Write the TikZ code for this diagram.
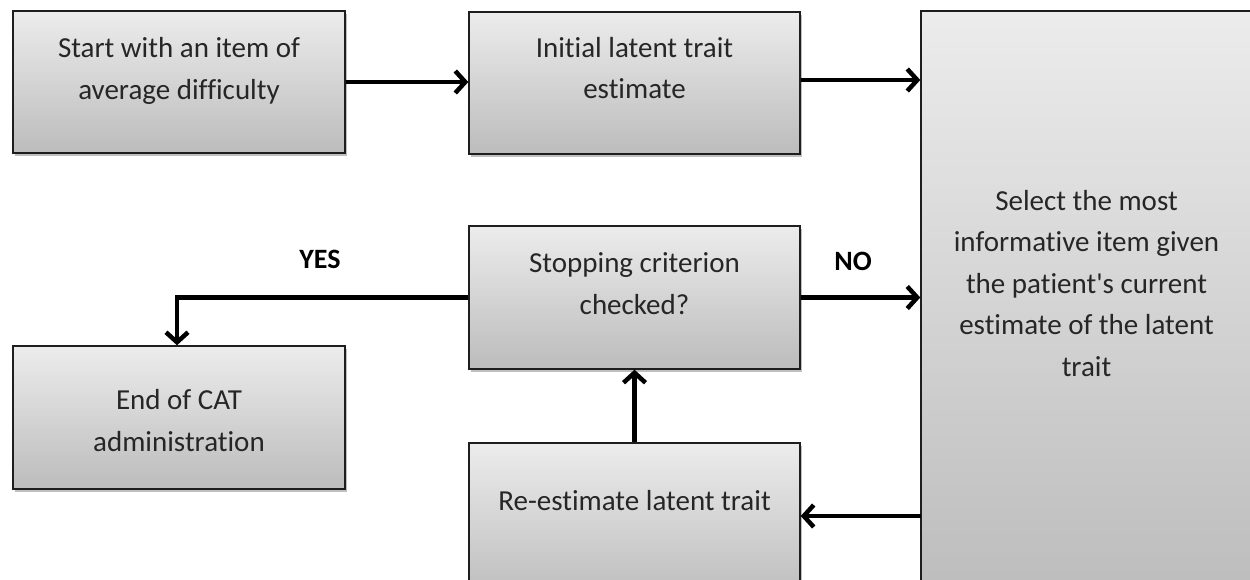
\documentclass[tikz,border=0pt]{standalone}
\usepackage{fontspec}
\setmainfont{Carlito}[Ligatures={NoCommon,TeXOff}]
\usetikzlibrary{arrows.meta,shadows,calc}
\definecolor{boxtop}{RGB}{236,236,236}
\definecolor{boxbot}{RGB}{188,188,188}
\definecolor{edge}{RGB}{30,30,30}
\tikzset{
  box/.style={draw=edge, line width=1.4pt, top color=boxtop, bottom color=boxbot,
    drop shadow={shadow xshift=1.5pt, shadow yshift=-3pt, fill=black, opacity=0.25},
    inner sep=0pt},
  txt/.style={align=center, font=\fontsize{29}{41.5}\selectfont, text=black!85},
  lab/.style={font=\fontsize{28}{32}\selectfont\bfseries},
  arr/.style={line width=4.5pt, -{Straight Barb[length=10pt,width=22pt,line width=4.5pt]}}
}
\begin{document}
\begin{tikzpicture}[x=1pt,y=-1pt]
\clip (0,0) rectangle (1250,580);
\fill[white] (0,0) rectangle (1250,580);
\node[box, minimum width=332pt, minimum height=142pt,
  label={[txt, yshift=11pt]center:{Start with an item of\\average difficulty}}] (A) at (179,82) {};
\node[box, minimum width=331pt, minimum height=142pt,
  label={[txt, yshift=15pt]center:{Initial latent trait\\estimate}}] (B) at (634.5,83) {};
\node[box, minimum width=331pt, minimum height=589pt,
  label={[txt, yshift=22pt]center:{Select the most\\informative item given\\the patient's current\\estimate of the latent\\trait}}] (C) at (1086.5,305.5) {};
\node[box, minimum width=331pt, minimum height=143pt,
  label={[txt, yshift=14pt]center:{Stopping criterion\\checked?}}] (D) at (634.5,297.5) {};
\node[box, minimum width=332pt, minimum height=143pt,
  label={[txt, yshift=-3pt]center:{End of CAT\\administration}}] (E) at (179,417.5) {};
\node[box, minimum width=331pt, minimum height=157pt,
  label={[txt, yshift=21pt]center:{Re-estimate latent trait}}] (F) at (634.5,521.5) {};
\node[lab] (yes) at (320,259) {YES};
\node[lab] (no) at (853,261) {NO};
\coordinate (cf) at (921,516);
\draw[arr] (A.east) -- (A.east -| B.west);
\draw[arr] ($(B.east)+(0,-3)$) -- ($(B.east -| C.west)+(0,-3)$);
\draw[arr] (D.east) -- (D.east -| C.west);
\draw[arr] (D.west) -| ($(E.north)+(-2,0)$);
\draw[arr] (F.north) -- (D.south);
\draw[arr] (cf) -- (cf -| F.east);
\end{tikzpicture}
\end{document}
